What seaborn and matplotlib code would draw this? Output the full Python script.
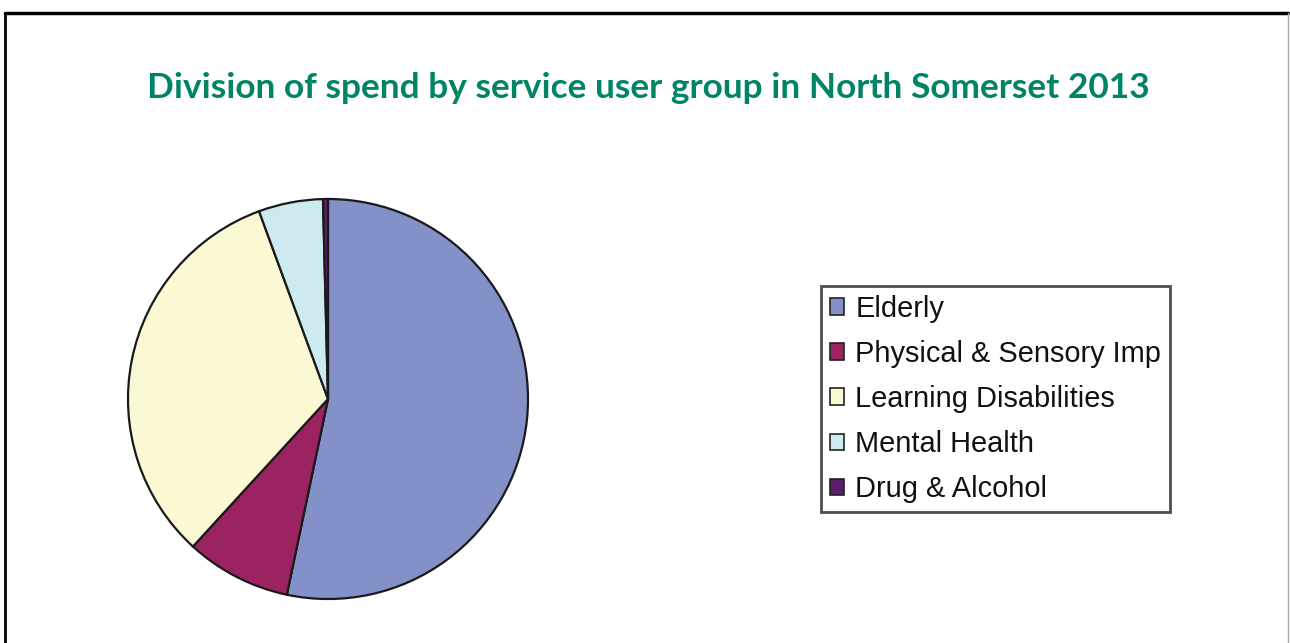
import matplotlib
matplotlib.use("Agg")
import matplotlib.pyplot as plt
import seaborn as sns
from matplotlib.lines import Line2D
from matplotlib.patches import Patch

categories = ["Elderly", "Physical & Sensory Imp", "Learning Disabilities",
              "Mental Health", "Drug & Alcohol"]
shares = [53.3, 8.5, 32.6, 5.2, 0.4]
colors = ["#8491C8", "#9C2362", "#FBF8D4", "#CDEAF1", "#5A1F6A"]
title = "Division of spend by service user group in North Somerset 2013"

sns.set_theme(style="white")
plt.rcParams['font.family'] = ['Liberation Sans', 'DejaVu Sans']

W, H = 1290, 643
fig = plt.figure(figsize=(W / 100, H / 100), dpi=100)
fig.patch.set_facecolor("white")

cx, cy, r = 328, 399, 202
ax = fig.add_axes([(cx - r) / W, (H - cy - r) / H, 2 * r / W, 2 * r / H])
wedges, _ = ax.pie(shares, colors=colors, startangle=90, counterclock=False,
                   wedgeprops=dict(edgecolor="#1a1a1a", linewidth=1.6))
ax.set_xlim(-1.01, 1.01)
ax.set_ylim(-1.01, 1.01)
ax.axis("off")

fig.text(648 / W, 1 - 88 / H, title, ha="center", va="center",
         color="#008466", fontsize=25.4, fontweight="bold", family="Lato")

handles = [Patch(facecolor=c, edgecolor="#222222", linewidth=1.2) for c in colors]
leg = fig.legend(handles, categories, loc="upper left",
                 bbox_to_anchor=(821 / W, 1 - 286 / H),
                 frameon=True, fancybox=False, fontsize=20.9,
                 handlelength=0.5, handleheight=0.5, handletextpad=0.38,
                 labelspacing=0.59, borderpad=0.3, borderaxespad=0.0)
fr = leg.get_frame()
fr.set_edgecolor("#222222")
fr.set_linewidth(2.0)
for t in leg.get_texts():
    t.set_color("#111111")

# outer frame
fig.add_artist(Line2D([5 / W, 1288 / W], [1 - 13 / H, 1 - 13 / H],
                      color="black", linewidth=2.5, transform=fig.transFigure))
fig.add_artist(Line2D([5 / W, 5 / W], [0, 1 - 13 / H],
                      color="black", linewidth=2.0, transform=fig.transFigure))
fig.add_artist(Line2D([1288 / W, 1288 / W], [0, 1 - 13 / H],
                      color="#aaaaaa", linewidth=1.0, transform=fig.transFigure))

fig.savefig("out.png", dpi=100)
